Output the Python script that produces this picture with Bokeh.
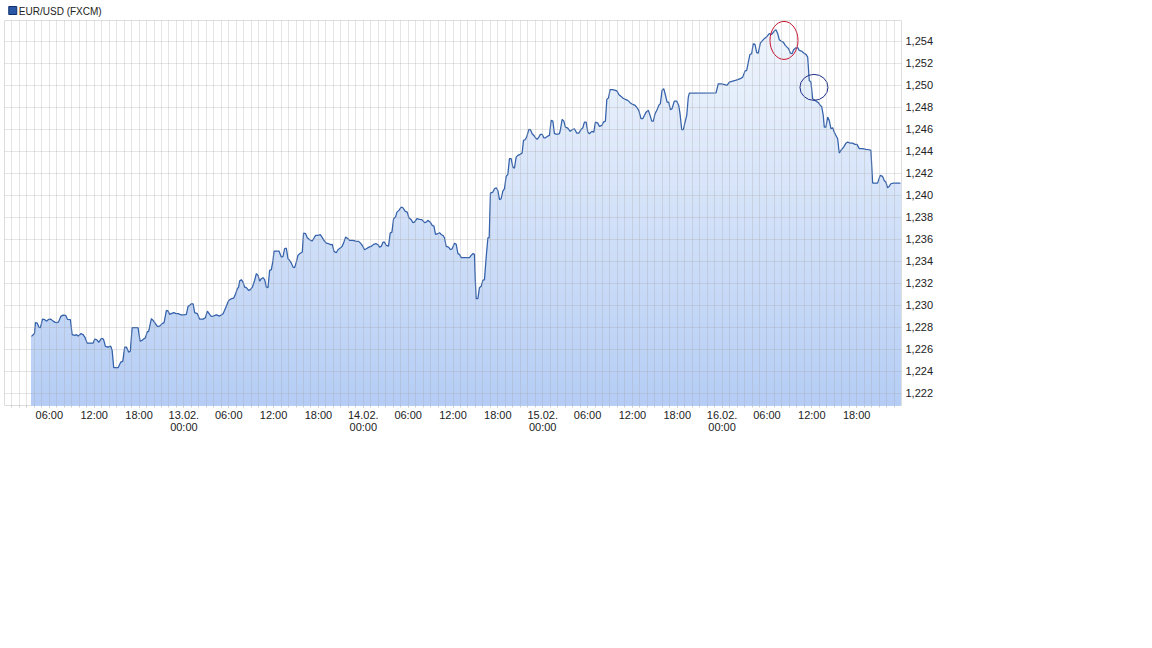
import numpy as np
from bokeh.plotting import figure
from bokeh.layouts import column
from bokeh.models import (FixedTicker, CustomJSTickFormatter, Range1d)
from bokeh.core.properties import value
from bokeh.embed import file_html
from bokeh.resources import INLINE

# ---------------- data (hours since 12.02.2018 00:00, EUR/USD price) ----------------
hours_12 = [3.61, 4.01, 4.14, 4.37, 4.59, 4.81, 5.08, 5.39, 5.61, 5.92,
            6.19, 6.51, 6.72, 6.95, 7.22, 7.53, 7.85, 8.20, 8.42, 8.82,
            9.05, 9.40, 9.63, 9.85, 10.20, 10.52, 10.74, 11.06, 11.86, 12.07,
            12.34, 12.61, 12.97, 13.24, 13.50, 13.86, 14.21, 14.40, 14.61, 15.20,
            15.55, 15.82, 16.08, 16.31, 16.62, 16.84, 17.07, 17.87, 18.14, 18.41,
            18.62, 18.85, 19.08, 19.29, 19.65, 19.88, 20.19, 20.45, 20.76, 21.08,
            21.35, 21.66, 21.89, 22.10, 22.33, 22.63, 22.99, 23.26, 23.57]
price_12 = [1.22718, 1.22745, 1.22843, 1.22839, 1.22803, 1.22797, 1.22875, 1.22870, 1.22857, 1.22873,
            1.22875, 1.22857, 1.22848, 1.22843, 1.22848, 1.22900, 1.22912, 1.22909, 1.22873, 1.22870,
            1.22734, 1.22727, 1.22734, 1.22721, 1.22743, 1.22734, 1.22712, 1.22657, 1.22657, 1.22694,
            1.22688, 1.22664, 1.22700, 1.22694, 1.22627, 1.22621, 1.22630, 1.22591, 1.22434, 1.22434,
            1.22485, 1.22491, 1.22621, 1.22621, 1.22575, 1.22585, 1.22797, 1.22797, 1.22675, 1.22682,
            1.22694, 1.22706, 1.22757, 1.22766, 1.22879, 1.22864, 1.22834, 1.22809, 1.22812, 1.22834,
            1.22843, 1.22955, 1.22948, 1.22918, 1.22925, 1.22934, 1.22925, 1.22925, 1.22915]

hours_13 = [24.10, 24.33, 24.56, 24.77, 25.00, 25.23, 25.44, 25.80, 26.11, 26.56,
            26.87, 27.14, 27.45, 27.67, 27.90, 28.34, 28.78, 29.24, 29.45, 29.99,
            30.35, 30.66, 30.92, 31.15, 31.32, 31.46, 31.68, 31.91, 32.13, 32.35,
            32.66, 32.89, 33.16, 33.46, 33.69, 33.92, 34.13, 34.36, 34.59, 34.80,
            35.03, 35.25, 35.47, 35.70, 35.92, 36.06, 36.72, 37.03, 37.26, 37.47,
            37.70, 37.93, 38.14, 38.37, 38.60, 38.81, 39.04, 39.26, 39.48, 39.84,
            40.01, 40.28, 40.51, 40.82, 41.14, 41.35, 41.62, 41.94, 42.25, 42.47,
            42.74, 43.05, 43.36, 43.62, 43.85, 44.08, 44.39, 44.61, 44.92, 45.15,
            45.36, 45.63, 45.95, 46.16, 46.62, 46.97, 47.37, 47.63, 47.95]
price_13 = [1.22915, 1.22918, 1.22991, 1.23000, 1.23015, 1.23015, 1.22934, 1.22925, 1.22875, 1.22875,
            1.22888, 1.22948, 1.22918, 1.22900, 1.22903, 1.22914, 1.22903, 1.22925, 1.22955, 1.23045,
            1.23061, 1.23066, 1.23106, 1.23152, 1.23166, 1.23221, 1.23234, 1.23212, 1.23166, 1.23161,
            1.23136, 1.23143, 1.23166, 1.23227, 1.23288, 1.23273, 1.23221, 1.23243, 1.23252, 1.23234,
            1.23166, 1.23161, 1.23318, 1.23325, 1.23409, 1.23494, 1.23494, 1.23439, 1.23445, 1.23515,
            1.23521, 1.23425, 1.23409, 1.23385, 1.23348, 1.23343, 1.23394, 1.23455, 1.23470, 1.23485,
            1.23657, 1.23652, 1.23615, 1.23597, 1.23585, 1.23606, 1.23636, 1.23636, 1.23643, 1.23621,
            1.23591, 1.23566, 1.23561, 1.23552, 1.23555, 1.23491, 1.23479, 1.23506, 1.23521, 1.23536,
            1.23566, 1.23621, 1.23606, 1.23591, 1.23591, 1.23585, 1.23582, 1.23566, 1.23536]

hours_14 = [48.17, 48.40, 48.76, 49.06, 49.37, 49.73, 49.96, 50.17, 50.40, 50.63,
            50.84, 51.07, 51.38, 51.60, 51.83, 52.05, 52.31, 52.50, 52.77, 53.07,
            53.30, 53.61, 53.88, 54.10, 54.41, 54.64, 54.85, 55.17, 55.52, 55.84,
            56.19, 56.42, 56.64, 56.95, 57.22, 57.45, 57.66, 57.98, 58.20, 58.42,
            58.65, 58.86, 59.09, 59.40, 59.67, 59.89, 60.20, 60.43, 60.66, 60.87,
            61.10, 62.21, 62.43, 62.66, 62.87, 62.97, 63.10, 63.33, 63.54, 63.77,
            63.99, 64.21, 64.44, 64.67, 64.84, 65.01, 65.33, 65.55, 65.78, 66.00,
            66.22, 66.44, 66.67, 66.89, 67.11, 67.34, 67.55, 67.78, 68.01, 68.22,
            68.45, 68.68, 68.98, 69.25, 69.43, 69.65, 69.88, 70.15, 70.36, 70.59,
            70.82, 71.03, 71.26, 71.48, 71.70, 71.93]
price_14 = [1.23506, 1.23515, 1.23530, 1.23536, 1.23555, 1.23561, 1.23552, 1.23530, 1.23536, 1.23575,
            1.23575, 1.23545, 1.23539, 1.23657, 1.23666, 1.23788, 1.23803, 1.23848, 1.23864, 1.23894,
            1.23888, 1.23855, 1.23848, 1.23797, 1.23779, 1.23752, 1.23757, 1.23788, 1.23782, 1.23779,
            1.23752, 1.23757, 1.23773, 1.23757, 1.23727, 1.23721, 1.23645, 1.23652, 1.23661, 1.23645,
            1.23636, 1.23615, 1.23536, 1.23530, 1.23506, 1.23515, 1.23566, 1.23555, 1.23470, 1.23464,
            1.23434, 1.23434, 1.23455, 1.23470, 1.23464, 1.23257, 1.23061, 1.23061, 1.23161, 1.23173,
            1.23227, 1.23234, 1.23439, 1.23615, 1.23615, 1.24021, 1.24030, 1.24061, 1.24070, 1.24045,
            1.23961, 1.23970, 1.24039, 1.24061, 1.24173, 1.24191, 1.24334, 1.24334, 1.24257, 1.24248,
            1.24348, 1.24364, 1.24373, 1.24385, 1.24500, 1.24506, 1.24536, 1.24600, 1.24597, 1.24561,
            1.24545, 1.24524, 1.24509, 1.24530, 1.24555, 1.24555]

hours_15 = [72.15, 72.37, 72.69, 72.90, 73.13, 73.36, 73.57, 73.93, 74.24, 74.37,
            74.60, 74.83, 75.04, 75.36, 75.67, 75.94, 76.24, 76.56, 76.83, 77.14,
            77.37, 77.58, 77.81, 78.04, 78.25, 78.57, 78.84, 79.05, 79.37, 79.59,
            79.91, 80.12, 80.39, 80.58, 80.79, 81.02, 81.38, 81.72, 81.95, 82.18,
            82.49, 82.71, 83.06, 83.38, 83.69, 84.05, 84.36, 84.63, 84.85, 85.16,
            85.39, 85.60, 85.83, 86.14, 86.36, 86.59, 86.80, 87.03, 87.30, 87.53,
            87.74, 87.97, 88.19, 88.41, 88.64, 88.86, 89.08, 89.30, 89.61, 89.93,
            90.20, 90.37, 90.60, 90.82, 91.04, 91.27, 91.48, 91.62, 95.19, 95.49, 95.86]
price_15 = [1.24524, 1.24524, 1.24539, 1.24545, 1.24682, 1.24675, 1.24561, 1.24555, 1.24561, 1.24597,
            1.24691, 1.24675, 1.24621, 1.24612, 1.24582, 1.24597, 1.24606, 1.24566, 1.24566, 1.24600,
            1.24615, 1.24666, 1.24666, 1.24575, 1.24561, 1.24582, 1.24575, 1.24666, 1.24657, 1.24627,
            1.24636, 1.24666, 1.24675, 1.24873, 1.24885, 1.24961, 1.24961, 1.24955, 1.24948, 1.24918,
            1.24900, 1.24885, 1.24873, 1.24864, 1.24843, 1.24827, 1.24818, 1.24797, 1.24773, 1.24697,
            1.24697, 1.24727, 1.24757, 1.24773, 1.24727, 1.24675, 1.24675, 1.24743, 1.24779, 1.24818,
            1.24834, 1.24955, 1.24970, 1.24915, 1.24848, 1.24848, 1.24779, 1.24788, 1.24857, 1.24857,
            1.24818, 1.24743, 1.24597, 1.24597, 1.24666, 1.24727, 1.24894, 1.24930, 1.24932, 1.25015, 1.25015]

hours_16 = [96.22, 96.66, 96.97, 97.42, 97.77, 98.09, 98.44, 98.76, 99.06, 99.29,
            99.51, 99.73, 99.96, 100.17, 100.40, 100.63, 100.84, 101.11, 101.34, 101.64,
            102.01, 102.31, 102.63, 102.98, 103.21, 103.44, 103.65, 103.88, 104.19, 104.45,
            104.68, 104.91, 105.12, 105.35, 105.57, 105.88, 106.15, 106.32, 106.64, 106.91,
            107.22, 107.45, 107.66, 107.89, 108.11, 108.33, 108.56, 108.86, 109.13, 109.32,
            109.53, 109.67, 109.89, 110.12, 110.33, 110.56, 110.79, 111.00, 111.23, 111.46,
            111.67, 111.90, 112.26, 112.57, 112.79, 113.14, 113.46, 113.77, 114.04, 114.35,
            114.80, 115.24, 115.68, 115.91, 116.14, 116.80, 117.15, 117.47, 117.69, 117.91,
            118.14, 118.35, 118.58, 118.92, 119.85]
price_16 = [1.25009, 1.25000, 1.25030, 1.25039, 1.25045, 1.25052, 1.25061, 1.25075, 1.25130, 1.25136,
            1.25212, 1.25282, 1.25288, 1.25379, 1.25373, 1.25297, 1.25294, 1.25385, 1.25403, 1.25425,
            1.25445, 1.25470, 1.25464, 1.25494, 1.25506, 1.25470, 1.25415, 1.25403, 1.25394, 1.25364,
            1.25348, 1.25333, 1.25294, 1.25288, 1.25324, 1.25342, 1.25342, 1.25318, 1.25312, 1.25294,
            1.25282, 1.25257, 1.25045, 1.25030, 1.24879, 1.24870, 1.24857, 1.24845, 1.24818, 1.24809,
            1.24727, 1.24621, 1.24621, 1.24712, 1.24682, 1.24606, 1.24615, 1.24575, 1.24545, 1.24515,
            1.24385, 1.24409, 1.24439, 1.24475, 1.24485, 1.24475, 1.24475, 1.24464, 1.24464, 1.24425,
            1.24425, 1.24418, 1.24415, 1.24409, 1.24112, 1.24112, 1.24182, 1.24173, 1.24136, 1.24121,
            1.24070, 1.24082, 1.24106, 1.24112, 1.24112]

# highlighted spots (hours, price)
mark_hours = [104.28, 108.29]
mark_price = [1.25409, 1.24982]

series_label = "EUR/USD (FXCM)"
y_ticks = [1.222, 1.224, 1.226, 1.228, 1.230, 1.232, 1.234, 1.236, 1.238,
           1.240, 1.242, 1.244, 1.246, 1.248, 1.250, 1.252, 1.254]
x_start = "2018-02-12T00:00"
x_end = "2018-02-17T00:00"
y_min, y_max = 1.2209, 1.2559

# ---------------- build ----------------
hours = np.array(hours_12 + hours_13 + hours_14 + hours_15 + hours_16)
price = np.array(price_12 + price_13 + price_14 + price_15 + price_16)
n = min(len(hours), len(price))
hours, price = hours[:n], price[:n]
t0 = np.datetime64(x_start, "ms")
times = t0 + (hours * 3600000).round().astype("int64").astype("timedelta64[ms]")
mtimes = t0 + (np.array(mark_hours) * 3600000).round().astype("int64").astype("timedelta64[ms]")

def ms(dt):
    return dt.astype("datetime64[ms]").astype("int64").tolist()

major = ms(np.datetime64("2018-02-12T06:00") + np.arange(19) * np.timedelta64(6, "h"))
hourly = ms(np.datetime64("2018-02-12T01:00") + np.arange(119) * np.timedelta64(1, "h"))

FONT = "Liberation Sans"
TXT = "#222222"

# ---- header strip (legend: square + series name) ----
hdr = figure(title=None, width=300, height=20, x_range=Range1d(0, 300), y_range=Range1d(20, 0),
             min_border=0, output_backend="svg", toolbar_location=None,
             x_axis_type=None, y_axis_type=None, outline_line_color=None,
             background_fill_color="white", border_fill_color="white")
hdr.grid.visible = False
hdr.scatter(x=[9.5], y=[10], marker="square", size=8, fill_color="#2b58a6", line_color="#0f2f6c", line_width=1)
hdr.text(x=[16.5], y=[10.5], text=[series_label], text_font=value(FONT), text_font_size="10px",
         text_color=TXT, text_baseline="middle", text_align="left")

# ---- main chart ----
p = figure(title=None, x_axis_type="datetime", y_axis_location="right",
           frame_width=897, frame_height=385,
           min_border_left=4, min_border_top=0, min_border_right=4, min_border_bottom=4,
           x_range=Range1d(np.datetime64(x_start, "ms"), np.datetime64(x_end, "ms")),
           y_range=Range1d(y_min, y_max),
           output_backend="svg", toolbar_location=None, background_fill_color="white",
           border_fill_color="white", outline_line_color="#dddddd")

# gradient area fill as stacked bands
top_rgb = np.array([241, 246, 253])
bot_rgb = np.array([181, 205, 245])
nb = 70
edges = np.linspace(y_min, y_max, nb + 1)
base = np.full(n, y_min)
for i in range(nb, 0, -1):
    tt = ((edges[i - 1] + edges[i]) / 2 - y_min) / (y_max - y_min)
    c = bot_rgb + (top_rgb - bot_rgb) * tt
    col = "#%02x%02x%02x" % tuple(int(round(v)) for v in c)
    p.varea(x=times, y1=base, y2=np.minimum(price, edges[i]), fill_color=col, fill_alpha=1.0)

# grid on top of the fill
p.xgrid.ticker = FixedTicker(ticks=hourly)
p.ygrid.ticker = FixedTicker(ticks=y_ticks)
for g in (p.xgrid, p.ygrid):
    g.grid_line_color = "#a0a0a0"
    g.grid_line_alpha = 0.28
    g.level = "overlay"

p.line(times, price, line_color="#3562ab", line_width=1.25, level="overlay")

p.ellipse(x=mtimes[:1], y=mark_price[:1], width=28, height=38,
          width_units="screen", height_units="screen",
          fill_alpha=0, line_color="#c8102e", line_width=1, level="overlay")
p.ellipse(x=mtimes[1:], y=mark_price[1:], width=28, height=26,
          width_units="screen", height_units="screen",
          fill_alpha=0, line_color="#1c2a86", line_width=1, level="overlay")

# axes
xa = p.xaxis[0]
xa.ticker = FixedTicker(ticks=major, minor_ticks=hourly)
xa.formatter = CustomJSTickFormatter(code="""
const d = new Date(tick);
const z = (v) => String(v).padStart(2, '0');
const hm = z(d.getUTCHours()) + ':' + z(d.getUTCMinutes());
if (d.getUTCHours() === 0) { return z(d.getUTCDate()) + '.' + z(d.getUTCMonth() + 1) + '.\\n' + hm; }
return hm;
""")
xa.axis_line_color = None
xa.major_tick_line_color = "#cccccc"
xa.major_tick_in = 0
xa.major_tick_out = 2
xa.minor_tick_line_color = "#cccccc"
xa.minor_tick_in = 0
xa.minor_tick_out = 2
xa.major_label_standoff = 1
xa.major_label_text_font = FONT
xa.major_label_text_font_size = "11px"
xa.major_label_text_line_height = 1.0
xa.major_label_text_color = TXT

ya = p.yaxis[0]
ya.ticker = FixedTicker(ticks=y_ticks)
ya.formatter = CustomJSTickFormatter(code="return tick.toFixed(3).replace('.', ',');")
ya.axis_line_color = None
ya.major_tick_line_color = None
ya.minor_tick_line_color = None
ya.major_tick_out = 0
ya.major_tick_in = 0
ya.major_label_standoff = 4
ya.major_label_text_font = FONT
ya.major_label_text_font_size = "11px"
ya.major_label_text_color = TXT

layout = column(hdr, p, spacing=0)
open("out.html", "w").write(file_html(layout, INLINE))
